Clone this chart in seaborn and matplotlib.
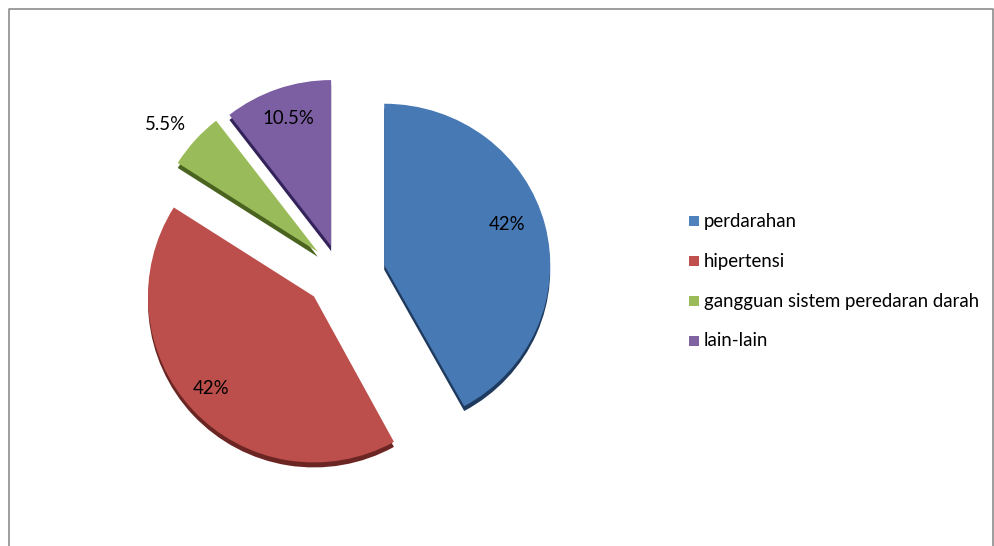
import matplotlib
matplotlib.use("Agg")
import matplotlib.pyplot as plt
from matplotlib.patches import Rectangle
from matplotlib.transforms import Affine2D
import seaborn as sns

sns.set_theme(style="white")
plt.rcParams['font.family'] = ['Lato', 'DejaVu Sans']

categories = ["perdarahan", "hipertensi", "gangguan sistem peredaran darah", "lain-lain"]
values = [42, 42, 5.5, 10.5]
value_labels = ["42%", "42%", "5.5%", "10.5%"]
colors = ["#4779B5", "#BC4F4B", "#9ABB59", "#7C5FA2"]
shadow_colors = ["#1F3A5F", "#6B2523", "#4A6420", "#33235A"]
legend_colors = ["#4F81BD", "#C0504D", "#9BBB59", "#8064A2"]
explode = [0.275, 0.215, 0.18, 0.165]

W, H = 995, 546
fig = plt.figure(figsize=(W/100, H/100), dpi=100, facecolor="white")
ax = fig.add_axes([0, 0, 1, 1])

def flip(py):
    return H - py

# shadow rim first, then the top face, through the same pie layout
cx, cy, R = 340, 272, 166
common = dict(startangle=90, counterclock=False, explode=[e * R for e in explode],
              radius=R, frame=True, wedgeprops=dict(edgecolor="none", linewidth=0))
shadow, _ = ax.pie(values, colors=shadow_colors, center=(cx, flip(cy) - 5), **common)
faces, _ = ax.pie(values, colors=colors, center=(cx, flip(cy)), **common)

ax.set_aspect("auto")
ax.set_xlim(0, W)
ax.set_ylim(0, H)
ax.axis("off")

# the first slice is slightly foreshortened by the 3-D tilt of the original
y0 = flip(408)
tilt = Affine2D().translate(0, -y0).scale(1, 0.971).translate(0, y0)
for wedge in (shadow[0], faces[0]):
    wedge.set_transform(tilt + ax.transData)

# chart frame
frame_c = "#8c8c8c"
ax.plot([9, 9, 993, 993], [flip(546), flip(9), flip(9), flip(546)], color=frame_c, lw=1.2, clip_on=False)

# value labels
label_pos = [(507, 224), (211, 388), (166, 124), (288, 118)]
for (x, y), t in zip(label_pos, value_labels):
    ax.text(x, flip(y), t, fontsize=13.4, color="black", ha="center", va="center", zorder=5)

# legend
legend_y = [221, 261, 301, 341]
for y, c, t in zip(legend_y, legend_colors, categories):
    ax.add_patch(Rectangle((689, flip(y + 5)), 10, 10, facecolor=c, edgecolor="none"))
    ax.text(704, flip(y), t, fontsize=13.4, color="black", ha="left", va="center")

fig.savefig("out.png", dpi=100)
